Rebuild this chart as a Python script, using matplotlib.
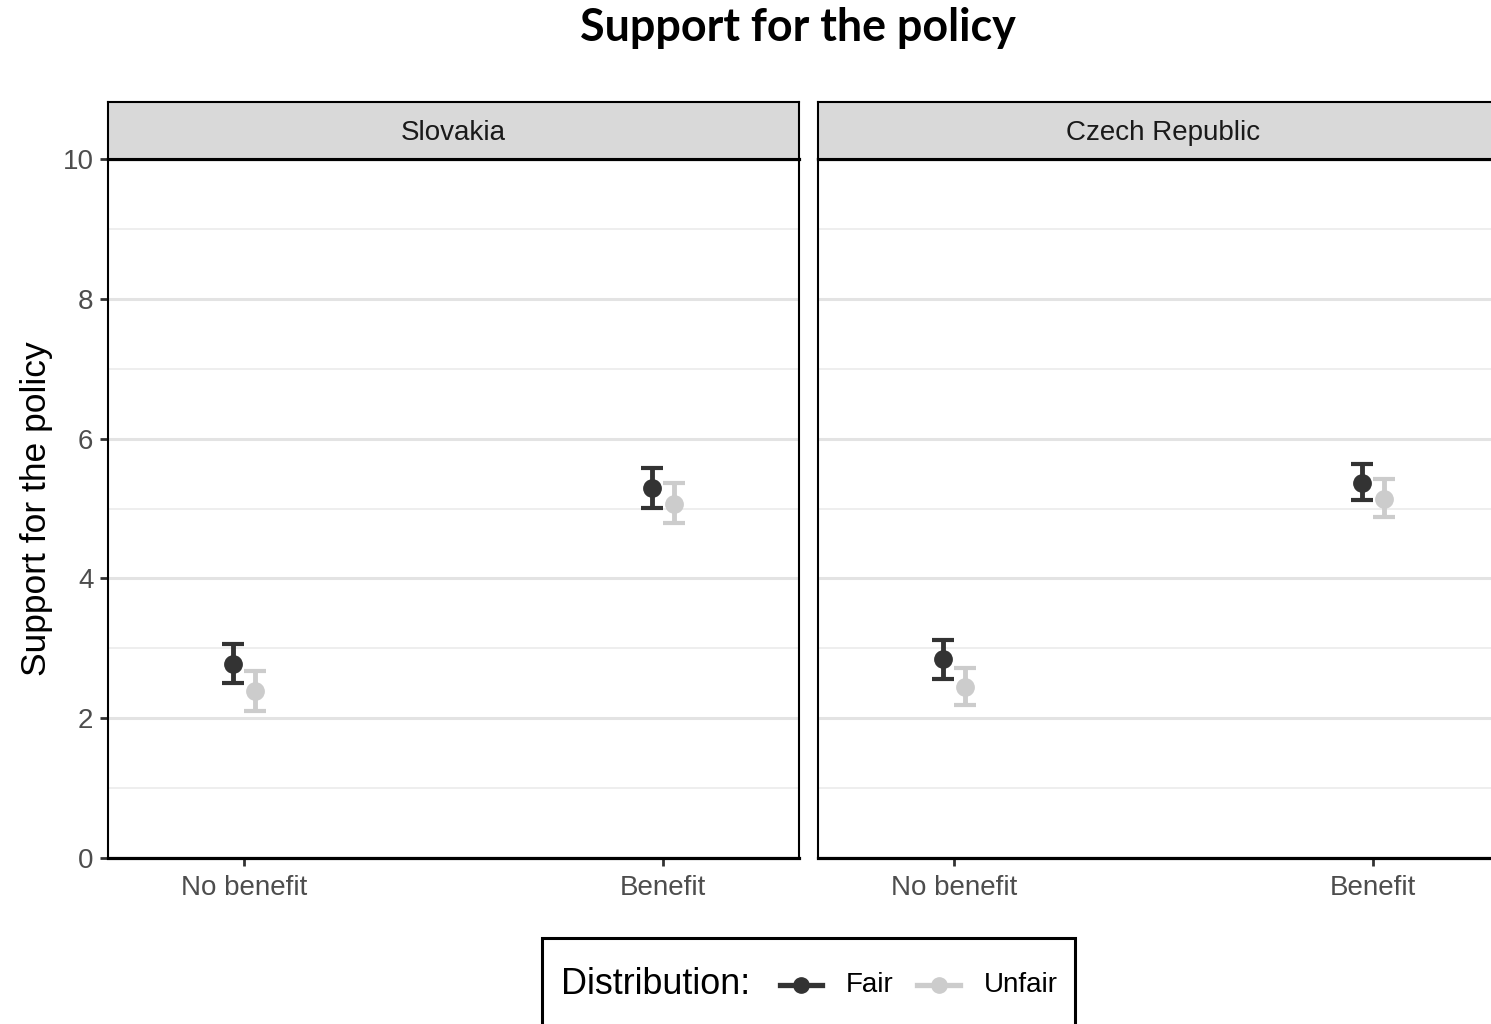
import matplotlib
matplotlib.use("Agg")
import matplotlib.pyplot as plt
from matplotlib.patches import Rectangle
from matplotlib.lines import Line2D
import numpy as np

plt.rcParams["font.family"] = ["Liberation Sans", "DejaVu Sans"]

# Data: mean support with confidence interval bounds
countries = ["Slovakia", "Czech Republic"]
conditions = ["No benefit", "Benefit"]
groups = ["Fair", "Unfair"]
group_colors = {"Fair": "#333333", "Unfair": "#CCCCCC"}

means = {
    "Slovakia": {"Fair": [2.78, 5.30], "Unfair": [2.39, 5.06]},
    "Czech Republic": {"Fair": [2.85, 5.37], "Unfair": [2.45, 5.14]},
}
lower = {
    "Slovakia": {"Fair": [2.50, 5.01], "Unfair": [2.10, 4.79]},
    "Czech Republic": {"Fair": [2.56, 5.12], "Unfair": [2.19, 4.88]},
}
upper = {
    "Slovakia": {"Fair": [3.06, 5.58], "Unfair": [2.67, 5.36]},
    "Czech Republic": {"Fair": [3.12, 5.63], "Unfair": [2.72, 5.42]},
}
y_ticks = [0, 2, 4, 6, 8, 10]
dodge = 0.052

W, H = 1491, 1024
fig = plt.figure(figsize=(W / 100, H / 100), dpi=100)


def px_rect(x0, y0, x1, y1):
    """Pixel box (top-left origin) to figure fraction rect."""
    return [x0 / W, 1 - y1 / H, (x1 - x0) / W, (y1 - y0) / H]


panel_left = [108, 818]
panel_w = 691
panel_top, panel_bottom = 159, 858
strip_top = 102

xpos = np.arange(1, len(conditions) + 1)
offsets = {"Fair": -dodge / 2, "Unfair": dodge / 2}

for i, country in enumerate(countries):
    x0 = panel_left[i]
    ax = fig.add_axes(px_rect(x0, panel_top, x0 + panel_w, panel_bottom))
    ax.set_xlim(0.675, 2.325)
    ax.set_ylim(0, 10)

    # grid
    for v in range(1, 10, 2):
        ax.axhline(v, color="#EBEBEB", lw=1.2, zorder=0)
    for v in y_ticks:
        ax.axhline(v, color="#E3E3E3", lw=2.2, zorder=0)

    for g in groups:
        m = np.array(means[country][g])
        lo = np.array(lower[country][g])
        hi = np.array(upper[country][g])
        ax.errorbar(xpos + offsets[g], m, yerr=[m - lo, hi - m],
                    fmt="o", color=group_colors[g], ms=12.5, elinewidth=3.5,
                    capsize=8, capthick=3.0, zorder=3)

    ax.set_xticks(xpos)
    ax.set_xticklabels(conditions)
    ax.set_yticks(y_ticks)
    if i == 0:
        ax.set_yticklabels([str(t) for t in y_ticks])
        ax.set_ylabel("Support for the policy", fontsize=25.5, labelpad=7)
    else:
        ax.tick_params(axis="y", left=False, labelleft=False)
    ax.tick_params(axis="both", labelsize=20, colors="#333333",
                   labelcolor="#4D4D4D", length=5.5, width=2.0, pad=5)
    ax.tick_params(axis="x", pad=6.5)
    for s in ["left", "right"]:
        ax.spines[s].set_linewidth(1.5)
        ax.spines[s].set_color("black")
    ax.spines["bottom"].set_linewidth(2.3)
    ax.spines["top"].set_linewidth(2.3)

    # facet strip
    sax = fig.add_axes(px_rect(x0, strip_top, x0 + panel_w, panel_top))
    sax.set_facecolor("#D9D9D9")
    sax.set_xticks([])
    sax.set_yticks([])
    for s in sax.spines.values():
        s.set_linewidth(1.5)
        s.set_color("black")
    sax.text(0.5, 0.45, country, ha="center", va="center", fontsize=20,
             color="#1A1A1A", transform=sax.transAxes)

# title
fig.text(798 / W, 1 - 28 / H, "Support for the policy", ha="center",
         va="center", fontsize=32.3, fontweight="bold",
         family=["Lato", "DejaVu Sans"])

# legend box
fig.add_artist(Rectangle((542 / W, 1 - 1030 / H), (1075 - 542) / W,
                         (1030 - 938) / H, transform=fig.transFigure,
                         facecolor="white", edgecolor="black", lw=2.2,
                         clip_on=False))
ly = 1 - 985 / H
fig.text(561 / W, ly, "Distribution:", ha="left", va="center",
         fontsize=25.8)
key_spans = {"Fair": (780, 822), "Unfair": (917, 960)}
label_x = {"Fair": 846, "Unfair": 984}
for g in groups:
    a, b = key_spans[g]
    fig.add_artist(Line2D([a / W, b / W], [ly, ly], transform=fig.transFigure,
                          color=group_colors[g], lw=3.8))
    fig.add_artist(Line2D([(a + b) / 2 / W], [ly], transform=fig.transFigure,
                          color=group_colors[g], marker="o", ms=11))
    fig.text(label_x[g] / W, ly, g, ha="left", va="center", fontsize=20)

fig.savefig("out.png", dpi=100)
